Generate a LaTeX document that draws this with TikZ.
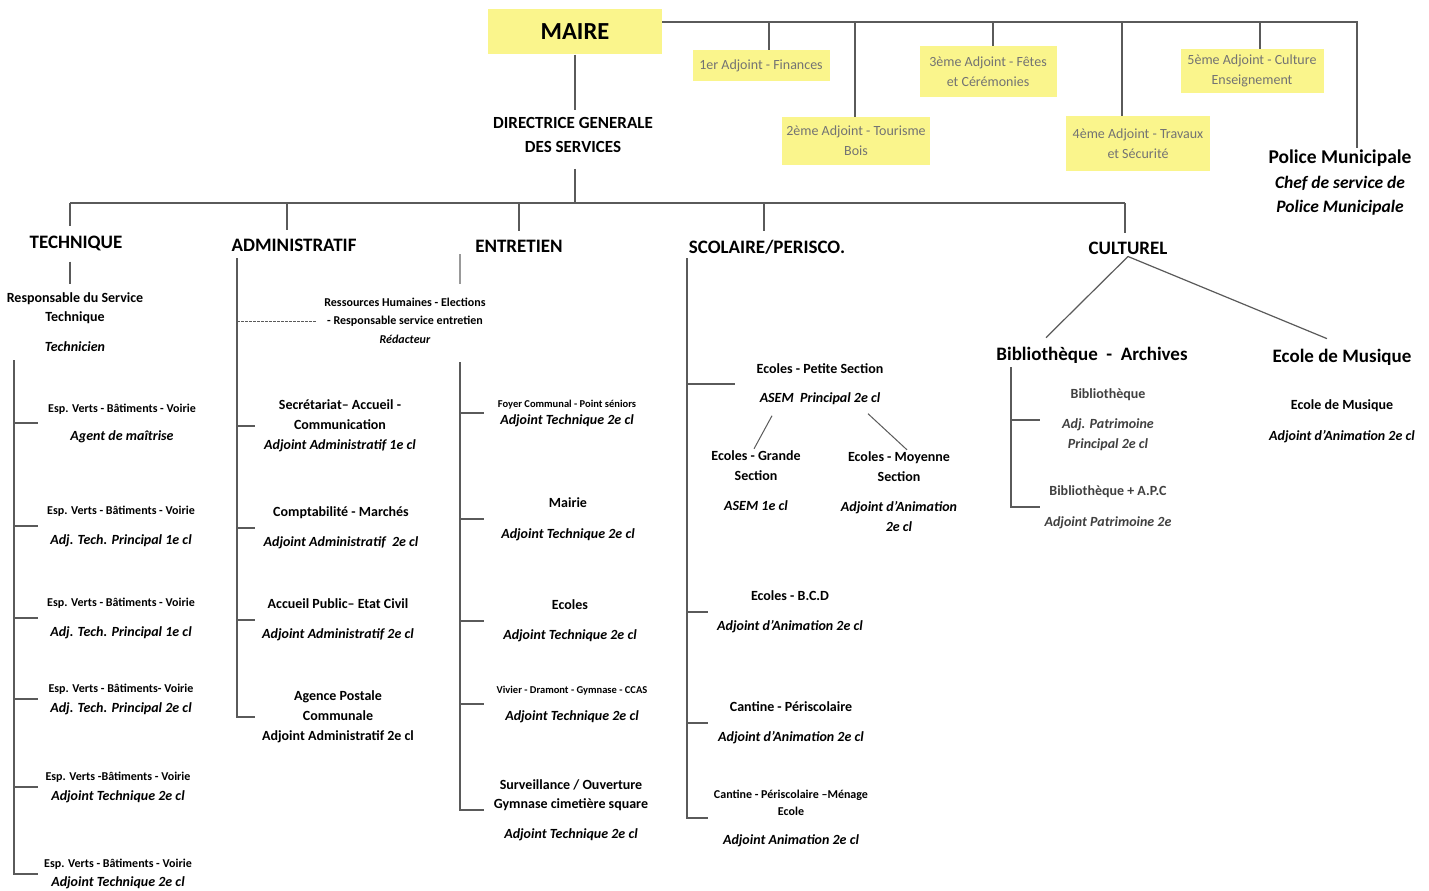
\documentclass[tikz,border=0pt]{standalone}
\usepackage{fontspec}
\setmainfont{Carlito}
\usetikzlibrary{positioning}
\definecolor{adjyellow}{RGB}{250,245,140}
\definecolor{orgline}{RGB}{90,90,90}
\begin{document}
\begin{tikzpicture}[x=1pt,y=-1pt,
  every node/.style={align=center,inner sep=2pt},
  link/.style={draw=orgline,line width=1.2pt},
  adj/.style={fill=adjyellow,text=black!55,font=\fontsize{14}{20}\selectfont},
  head/.style={font=\bfseries\fontsize{19}{22}\selectfont},
  post/.style={font=\bfseries\fontsize{14}{17}\selectfont},
  cond/.style={font=\bfseries\fontsize{12}{17}\selectfont}]
\fill[white] (0,0) rectangle (1429,890);
% top of the chart
\node[fill=adjyellow,minimum width=174pt,minimum height=45pt,
  font=\bfseries\fontsize{24.5}{26}\selectfont] (maire) at (575,32) {MAIRE};
\node[adj,minimum width=137pt,minimum height=31pt] (a1) at (761,66) {1er Adjoint - Finances};
\node[adj,minimum width=148pt,minimum height=48pt] (a2) at (856,141) {2ème Adjoint - Tourisme\\Bois};
\node[adj,minimum width=137pt,minimum height=51pt] (a3) at (988,72) {3ème Adjoint - Fêtes\\et Cérémonies};
\node[adj,minimum width=144pt,minimum height=55pt] (a4) at (1138,144) {4ème Adjoint - Travaux\\et Sécurité};
\node[adj,minimum width=143pt,minimum height=44pt] (a5) at (1252,71) {5ème Adjoint - Culture\\Enseignement};
\node[font=\bfseries\itshape\fontsize{17.5}{24.5}\selectfont] (pol) at (1340,183)
  {\upshape\fontsize{19.5}{24.5}\selectfont Police Municipale\\Chef de service de\\Police Municipale};
\node[font=\bfseries\fontsize{17}{24}\selectfont] (dgs) at (573,135) {DIRECTRICE GENERALE\\DES SERVICES};
\coordinate (tr) at (1357,22);
\draw[link] (maire.east |- tr) -- (tr) -- (tr |- pol.north);
\foreach \n/\x in {a1/769,a2/855,a3/993,a4/1122,a5/1260}
  \draw[link] (\x,0 |- tr) -- (\x,0 |- \n.north);
\draw[link,shorten >=5pt] (maire.south) -- (maire.south |- dgs.north);
% services
\node[head] (ht) at (76,243) {TECHNIQUE};
\node[head] (ha) at (294,245) {ADMINISTRATIF};
\node[head] (he) at (519,246) {ENTRETIEN};
\node[head] (hs) at (767,247) {SCOLAIRE/PERISCO.};
\node[head] (hc) at (1128,248) {CULTUREL};
\coordinate (bus) at (0,203);
\draw[link,shorten <=14pt] (maire.south |- dgs.south) -- (maire.south |- bus);
\draw[link] (70,0 |- bus) -- (1125,0 |- bus);
\foreach \h/\x in {ht/70,ha/287,he/519,hs/764,hc/1125}
  \draw[link,shorten >=7pt] (\x,0 |- bus) -- (\x,0 |- \h.north);
% technique
\node[post] (t0) at (75,322) {Responsable du Service\\[2pt]Technique\\[13pt]\textit{Technicien}};
\node[post] (t1) at (122,423) {{\fontsize{12}{14}\selectfont Esp. Verts - Bâtiments - Voirie}\\[11pt]\textit{Agent de maîtrise}};
\node[post] (t2) at (121,526) {{\fontsize{12}{14}\selectfont Esp. Verts - Bâtiments - Voirie}\\[13pt]\textit{Adj. Tech. Principal 1e cl}};
\node[post] (t3) at (121,618) {{\fontsize{12}{14}\selectfont Esp. Verts - Bâtiments - Voirie}\\[13pt]\textit{Adj. Tech. Principal 1e cl}};
\node[post] (t4) at (121,699) {{\fontsize{12}{14}\selectfont Esp. Verts - Bâtiments- Voirie}\\[3pt]\textit{Adj. Tech. Principal 2e cl}};
\node[post] (t5) at (118,787) {{\fontsize{12}{14}\selectfont Esp. Verts -Bâtiments - Voirie}\\[3pt]\textit{Adjoint Technique 2e cl}};
\node[post] (t6) at (118,874) {{\fontsize{12}{14}\selectfont Esp. Verts - Bâtiments - Voirie}\\[2pt]\textit{Adjoint Technique 2e cl}};
\draw[link,shorten <=9pt,shorten >=6pt] ([xshift=-6pt]ht.south) -- ([xshift=-5pt]t0.north);
\coordinate (tb) at (14,360);
\draw[link] (tb) -- (tb |- t6) -- ++(24,0);
\foreach \n in {t1,t2,t3,t4,t5}
  \draw[link] (tb |- \n) -- ++(24,0);
% administratif
\node[cond,font=\bfseries\fontsize{12}{18}\selectfont] (d1) at (405,321)
  {Ressources Humaines - Elections\\- Responsable service entretien\\[1pt]\textit{Rédacteur}};
\node[post] (d2) at (340,426) {Secrétariat– Accueil -\\[3pt]Communication\\[3pt]\textit{Adjoint Administratif 1e cl}};
\node[post] (d3) at (341,528) {Comptabilité - Marchés\\[13pt]\textit{Adjoint Administratif\ \ 2e cl}};
\node[post] (d4) at (338,620) {Accueil Public– Etat Civil\\[13pt]\textit{Adjoint Administratif 2e cl}};
\node[post] (d5) at (338,717) {Agence Postale\\[3pt]Communale\\[3pt]Adjoint Administratif 2e cl};
\coordinate (ab) at (237,258);
\draw[link] (ab) -- (ab |- d5) -- ++(18,0);
\draw[draw=orgline,line width=0.8pt,dash pattern=on 3pt off 1pt] (ab |- d1) -- ++(80,0);
\foreach \n in {d2,d3,d4}
  \draw[link] (ab |- \n) -- ++(18,0);
% entretien
\node[post] (e1) at (567,413) {{\fontsize{10.5}{12}\selectfont Foyer Communal - Point séniors}\\\textit{Adjoint Technique 2e cl}};
\node[post] (e2) at (568,519) {Mairie\\[14pt]\textit{Adjoint Technique 2e cl}};
\node[post] (e3) at (570,621) {Ecoles\\[13pt]\textit{Adjoint Technique 2e cl}};
\node[post] (e4) at (572,704) {{\fontsize{10.5}{12}\selectfont Vivier - Dramont - Gymnase - CCAS}\\[10pt]\textit{Adjoint Technique 2e cl}};
\node[post] (e5) at (571,810) {Surveillance / Ouverture\\[2pt]Gymnase cimetière square\\[13pt]\textit{Adjoint Technique 2e cl}};
\coordinate (eb) at (460,362);
\draw[link,draw=black!40] (eb |- he.south) -- ++(0,30);
\draw[link] (eb) -- (eb |- e5) -- ++(24,0);
\foreach \n in {e1,e2,e3,e4}
  \draw[link] (eb |- \n) -- ++(24,0);
% scolaire / periscolaire
\node[post] (s1) at (820,384) {Ecoles - Petite Section\\[12pt]\textit{ASEM\ \ Principal 2e cl}};
\node[post] (s2) at (756,481) {Ecoles - Grande\\[3pt]Section\\[13pt]\textit{ASEM 1e cl}};
\node[post] (s3) at (899,492) {Ecoles - Moyenne\\[3pt]Section\\[13pt]\textit{Adjoint d'Animation}\\[3pt]\textit{2e cl}};
\node[post] (s4) at (790,612) {Ecoles - B.C.D\\[13pt]\textit{Adjoint d'Animation 2e cl}};
\node[post] (s5) at (791,723) {Cantine - Périscolaire\\[13pt]\textit{Adjoint d'Animation 2e cl}};
\node[post] (s6) at (791,818) {{\fontsize{12}{14}\selectfont Cantine - Périscolaire –Ménage}\\{\fontsize{12}{14}\selectfont Ecole}\\[12pt]\textit{Adjoint Animation 2e cl}};
\draw[link,line width=1pt] ([xshift=-48pt,yshift=-9pt]s1.south) -- ([xshift=-2pt]s2.north);
\draw[link,line width=1pt] ([xshift=48pt,yshift=-7pt]s1.south) -- ([xshift=8pt]s3.north);
\coordinate (sb) at (687,258);
\draw[link] (sb) -- (sb |- s6) -- ++(21,0);
\draw[link] (sb |- s1) -- ++(48,0);
\foreach \n in {s4,s5}
  \draw[link] (sb |- \n) -- ++(21,0);
% culturel
\node[head] (cb) at (1092,355) {Bibliothèque\ \ -\ \ Archives};
\node[head] (cm) at (1342,357) {Ecole de Musique};
\draw[link] (hc.south) -- ([xshift=-46pt,yshift=7pt]cb.north);
\draw[link] (hc.south) -- ([xshift=-15pt,yshift=8pt]cm.north);
\node[post,text=black!75] (cb1) at (1108,420) {Bibliothèque\\[13pt]\textit{Adj. Patrimoine}\\[3pt]\textit{Principal 2e cl}};
\node[post,text=black!75] (cb2) at (1108,507) {Bibliothèque + A.P.C\\[14pt]\textit{Adjoint Patrimoine 2e}};
\node[post] (cm1) at (1342,421) {Ecole de Musique\\[14pt]\textit{Adjoint d'Animation 2e cl}};
\coordinate (cbb) at (1011,367);
\draw[link] (cbb) -- (cbb |- cb2) -- ++(29,0);
\draw[link] (cbb |- cb1) -- ++(29,0);
\end{tikzpicture}
\end{document}
